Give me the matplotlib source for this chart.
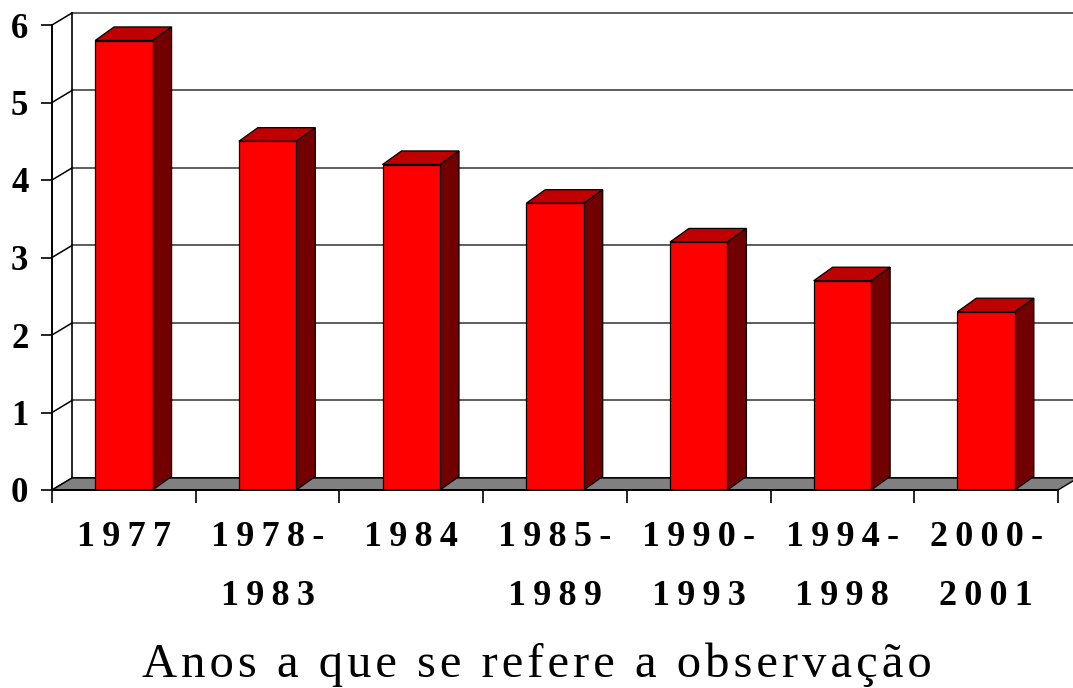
import matplotlib
matplotlib.use("Agg")
import matplotlib.pyplot as plt
from matplotlib.patches import Polygon

# ============ DATA ============
categories = ["1977", "1978-\n1983", "1984", "1985-\n1989", "1990-\n1993", "1994-\n1998", "2000-\n2001"]
values = [5.8, 4.5, 4.2, 3.7, 3.2, 2.7, 2.3]
y_ticks = [0, 1, 2, 3, 4, 5, 6]
x_title = "Anos a que se refere a observação"

# ============ STYLE ============
SERIF = ["Liberation Serif", "DejaVu Serif"]
FRONT = "#FF0000"
TOP = "#C00000"
SIDE = "#720000"
FLOOR = "#808080"
GRID = "#505050"

BAR_W = 0.40
WALL_DX, WALL_DY = 0.139, 0.155   # depth of the back wall (category units, value units)
BAR_DX, BAR_DY = 0.132, 0.175     # depth of each bar


def spaced(s, sep="\u200a"):
    # fake letter spacing, one line at a time
    return "\n".join(sep.join(line) for line in s.split("\n"))


fig = plt.figure(figsize=(10.73, 6.88), dpi=100)
ax = fig.add_axes([52 / 1073, 198 / 688, 1006 / 1073, 465 / 688])
n = len(values)
ax.set_xlim(0, n)
ax.set_ylim(0, y_ticks[-1])

# ---- back wall gridlines and left wall ----
for v in y_ticks:
    ax.plot([WALL_DX, n + WALL_DX + 0.2], [v + WALL_DY, v + WALL_DY],
            color=GRID if v else "black", lw=1.3, zorder=1, clip_on=False)
    ax.plot([0, WALL_DX], [v, v + WALL_DY], color="black", lw=1.1, zorder=1, clip_on=False)
ax.plot([WALL_DX, WALL_DX], [WALL_DY, y_ticks[-1] + WALL_DY], color="black", lw=1.2,
        zorder=1, clip_on=False)

# ---- floor ----
floor = Polygon([(0, 0), (n, 0), (n + WALL_DX, WALL_DY), (WALL_DX, WALL_DY)],
                closed=True, facecolor=FLOOR, edgecolor="black", lw=1.0, zorder=2, clip_on=False)
ax.add_patch(floor)

# ---- bars ----
for i, v in enumerate(values):
    c = i + 0.5
    x0, x1 = c - BAR_W / 2, c + BAR_W / 2
    ax.bar(c, v, width=BAR_W, color=FRONT, edgecolor="black", lw=0.9, zorder=4)
    top = Polygon([(x0, v), (x1, v), (x1 + BAR_DX, v + BAR_DY), (x0 + BAR_DX, v + BAR_DY)],
                  closed=True, facecolor=TOP, edgecolor="black", lw=0.9, zorder=3)
    side = Polygon([(x1, 0), (x1 + BAR_DX, BAR_DY), (x1 + BAR_DX, v + BAR_DY), (x1, v)],
                   closed=True, facecolor=SIDE, edgecolor="black", lw=0.9, zorder=3)
    ax.add_patch(top)
    ax.add_patch(side)

# ---- axes ----
for s in ["top", "right"]:
    ax.spines[s].set_visible(False)
for s in ["left", "bottom"]:
    ax.spines[s].set_color("black")
    ax.spines[s].set_linewidth(1.4)
    ax.spines[s].set_zorder(5)
ax.set_facecolor("none")

ax.set_yticks(y_ticks)
ax.set_yticklabels([str(t) for t in y_ticks], fontfamily=SERIF, fontweight="bold", fontsize=25)
ax.tick_params(axis="y", length=8, width=1.2, pad=9)

ax.set_xticks(range(n + 1))
ax.set_xticklabels([])
ax.tick_params(axis="x", which="major", length=9, width=1.2)
ax.set_xticks([i + 0.5 for i in range(n)], minor=True)
ax.set_xticklabels([spaced(c, "\u2009") for c in categories], minor=True,
                   fontfamily=SERIF, fontweight="bold", fontsize=26, linespacing=2.05)
ax.tick_params(axis="x", which="minor", length=0, pad=22)

fig.text(0.5, 11 / 688, spaced(x_title), ha="center", va="baseline",
         fontfamily=SERIF, fontsize=35)

fig.savefig("out.png", dpi=100, facecolor="white")
